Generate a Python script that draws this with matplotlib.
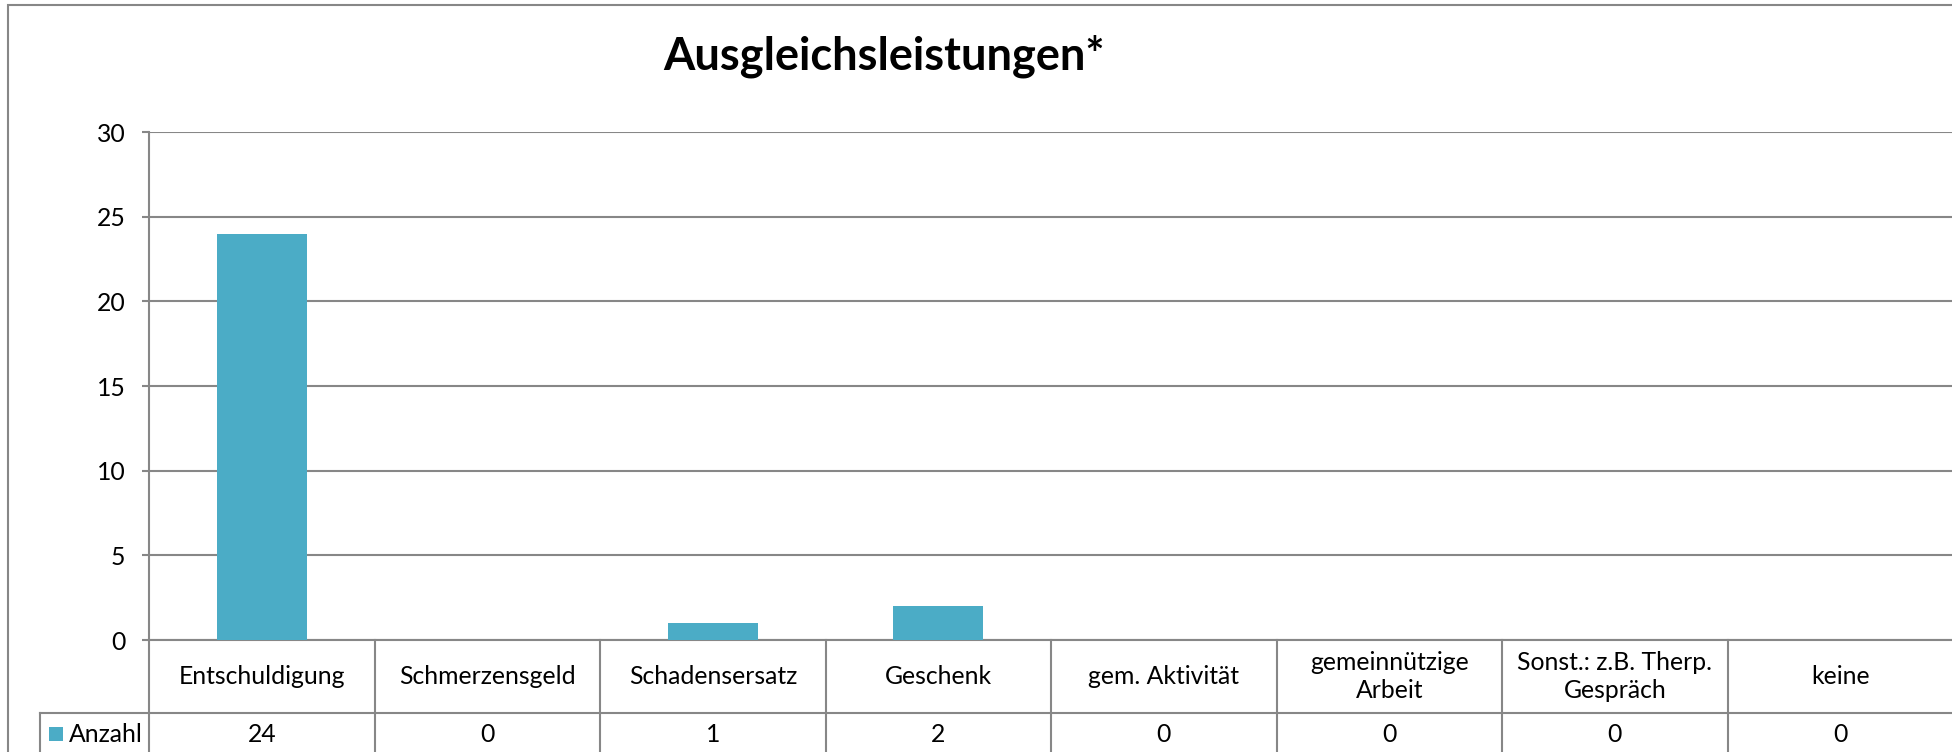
import matplotlib.pyplot as plt
from matplotlib.patches import Rectangle

categories = [
    "Entschuldigung",
    "Schmerzensgeld",
    "Schadensersatz",
    "Geschenk",
    "gem. Aktivität",
    "gemeinnützige\nArbeit",
    "Sonst.: z.B. Therp.\nGespräch",
    "keine",
]
anzahl = [24, 0, 1, 2, 0, 0, 0, 0]
series_name = "Anzahl"
title = "Ausgleichsleistungen*"
yticks = [0, 5, 10, 15, 20, 25, 30]

bar_color = "#4BACC6"
line_color = "#878787"

plt.rcParams["font.family"] = ["Lato", "DejaVu Sans"]

W, H = 1952, 752
fig = plt.figure(figsize=(W / 100, H / 100), dpi=100)

# plot area in pixels: x 149..1953, y 132..640 (from top)
ax_w, ax_h = 1804.0, 508.0
ax = fig.add_axes([149 / W, (H - 640) / H, ax_w / W, ax_h / H])

x = list(range(len(categories)))
ax.bar(x, anzahl, width=0.4, color=bar_color, zorder=3)

ax.set_xlim(-0.5, len(categories) - 0.5)
ax.set_ylim(0, 30)
ax.set_yticks(yticks)
ax.set_xticks([])
ax.tick_params(axis="y", length=5, width=1.5, color=line_color,
               pad=12, labelsize=17.8)
ax.yaxis.grid(True, color=line_color, linewidth=1.5, zorder=0)
for s in ["top", "right"]:
    ax.spines[s].set_visible(False)
for s in ["left", "bottom"]:
    ax.spines[s].set_color(line_color)
    ax.spines[s].set_linewidth(1.5)

# data table under the axis
row1 = -73 / ax_h
row2 = -115 / ax_h
tr = ax.get_xaxis_transform()
lkw = dict(color=line_color, linewidth=1.5, clip_on=False)
for i in range(len(categories) + 1):
    ax.plot([i - 0.5, i - 0.5], [0, row2], transform=tr, **lkw)
ax.plot([-0.5, len(categories) - 0.5], [row1, row1], transform=tr, **lkw)
ax.plot([-0.5, len(categories) - 0.5], [row2, row2], transform=tr, **lkw)

# legend cell on the left of the value row
leg_left = (40 - 149) / ax_w
ax.plot([leg_left, 0], [row1, row1], transform=ax.transAxes, **lkw)
ax.plot([leg_left, leg_left], [row1, row2], transform=ax.transAxes, **lkw)
mid2 = (row1 + row2) / 2
ax.add_patch(Rectangle(((49 - 149) / ax_w, mid2 - 7 / ax_h),
                       14 / ax_w, 14 / ax_h, transform=ax.transAxes,
                       facecolor=bar_color, edgecolor="none", clip_on=False))
ax.text((69 - 149) / ax_w, mid2, series_name, transform=ax.transAxes,
        ha="left", va="center", fontsize=17.8)

for i, (cat, val) in enumerate(zip(categories, anzahl)):
    ax.text(i, row1 / 2, cat, transform=tr, ha="center", va="center",
            fontsize=17.8, linespacing=1.25)
    ax.text(i, mid2, str(val), transform=tr, ha="center",
            va="center", fontsize=17.8)

fig.text(884 / W, 1 - 56 / H, title, ha="center", va="center",
         fontsize=32.5, fontweight="bold")

# outer chart frame (right and bottom edges are cut off)
fig.patches.append(Rectangle((8 / W, -0.05), 1.1, 1 - 5 / H + 0.05,
                             transform=fig.transFigure, fill=False,
                             edgecolor=line_color, linewidth=1.5))

fig.savefig("out.png", dpi=100)
